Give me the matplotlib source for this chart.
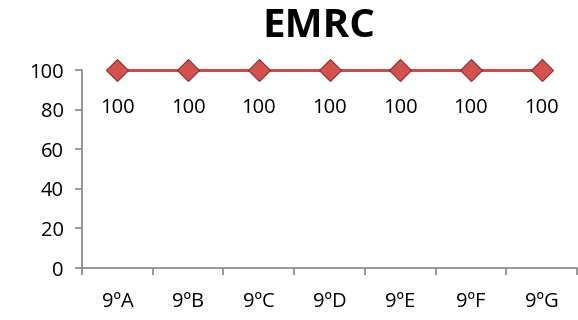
import matplotlib.pyplot as plt
import numpy as np

turmas = ["9ºA", "9ºB", "9ºC", "9ºD", "9ºE", "9ºF", "9ºG"]
valores = [100, 100, 100, 100, 100, 100, 100]

plt.rcParams["font.family"] = ["Open Sans", "DejaVu Sans"]

fig = plt.figure(figsize=(5.78, 3.2), dpi=100)
ax = fig.add_axes([0.1419, 0.1625, 0.8564, 0.61875])

x = np.arange(len(turmas))
ax.plot(x, valores, color="#C0504D", linewidth=2.2, marker="D", markersize=11,
        markerfacecolor="#D2524F", markeredgecolor="#8C2F2C", markeredgewidth=0.8,
        clip_on=False, zorder=3)

for xi, v in zip(x, valores):
    ax.annotate(f"{v}", (xi, v), xytext=(0, -27.5), textcoords="offset points",
                ha="center", va="center", fontsize=14.5)

ax.set_xlim(-0.5, len(turmas) - 0.5)
ax.set_ylim(0, 100)
ax.set_yticks(range(0, 101, 20))
ax.set_xticks(x)
ax.set_xticklabels(turmas)
ax.set_xticks(np.arange(-0.5, len(turmas), 1), minor=True)

for s in ["top", "right"]:
    ax.spines[s].set_visible(False)
for s in ["left", "bottom"]:
    ax.spines[s].set_color("#868686")
    ax.spines[s].set_linewidth(1.2)

ax.tick_params(axis="y", length=5, width=1.2, color="#868686", labelsize=14.5, pad=8)
ax.tick_params(axis="x", which="major", length=0, labelsize=14.5, pad=17)
ax.tick_params(axis="x", which="minor", length=5, width=1.2, color="#868686")

fig.text(0.551, 0.918, "EMRC", ha="center", va="center", fontsize=29, fontweight="bold")

fig.savefig("out.png", dpi=100)
